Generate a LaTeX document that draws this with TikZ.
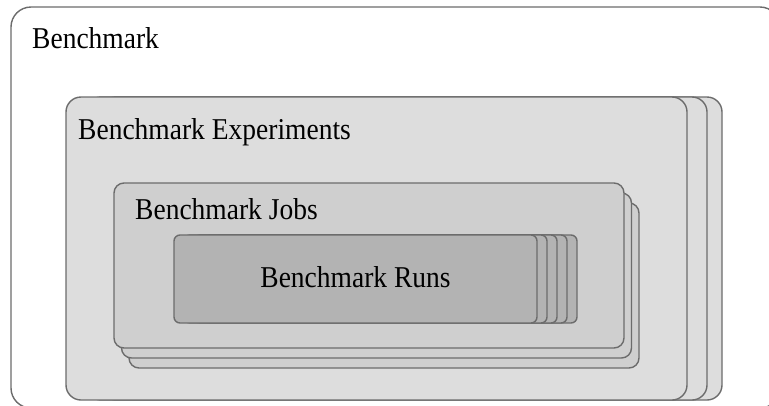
\documentclass[tikz,border=0pt]{standalone}
\usepackage{fontspec}
\setmainfont{Liberation Serif}
\newcommand{\tallt}[1]{\scalebox{1}[1.1]{#1}}
\begin{document}
\begin{tikzpicture}[x=1pt,y=-1pt,
  box/.style={draw=edgegray, line width=1.4pt, inner sep=0pt, outer sep=0pt, anchor=north west},
  outerbox/.style={box, fill=white, rounded corners=20pt, minimum width=769pt, minimum height=401pt},
  expbox/.style={box, fill=expgray, rounded corners=15pt, minimum width=621pt, minimum height=303pt},
  jobbox/.style={box, fill=jobgray, rounded corners=10pt, minimum width=510pt, minimum height=165pt},
  runbox/.style={box, fill=rungray, rounded corners=6pt, minimum width=363pt, minimum height=88pt},
  lbl/.style={anchor=base west, inner sep=0pt, font=\fontsize{27.5}{33}\selectfont, text=black}]
\definecolor{edgegray}{HTML}{6C6C6C}
\definecolor{expgray}{HTML}{DDDDDD}
\definecolor{jobgray}{HTML}{CFCFCF}
\definecolor{rungray}{HTML}{B3B3B3}
\useasboundingbox (0,0) rectangle (769,405);
\clip (0,0) rectangle (769,405);
% outer benchmark box
\node[outerbox] (bench) at (11,7) {};
\node[lbl] (benchlbl) at (32,48) {\tallt{Benchmark}};
% experiments
\node[expbox] (exp3) at (101,97) {};
\node[expbox] (exp2) at (86,97) {};
\node[expbox] (exp1) at (66,97) {};
\node[lbl] (explbl) at (78,139) {\tallt{Benchmark Experiments}};
% jobs
\node[jobbox] (job3) at (129,203) {};
\node[jobbox] (job2) at (121.5,193) {};
\node[jobbox] (job1) at (114,183) {};
\node[lbl] (joblbl) at (135,219) {\tallt{Benchmark Jobs}};
% runs
\node[runbox] (run5) at (214,235) {};
\node[runbox] (run4) at (204,235) {};
\node[runbox] (run3) at (194,235) {};
\node[runbox] (run2) at (184,235) {};
\node[runbox] (run1) at (174,235) {};
\node[lbl, anchor=base] (runlbl) at (355.5,287) {\tallt{Benchmark Runs}};
\end{tikzpicture}
\end{document}
